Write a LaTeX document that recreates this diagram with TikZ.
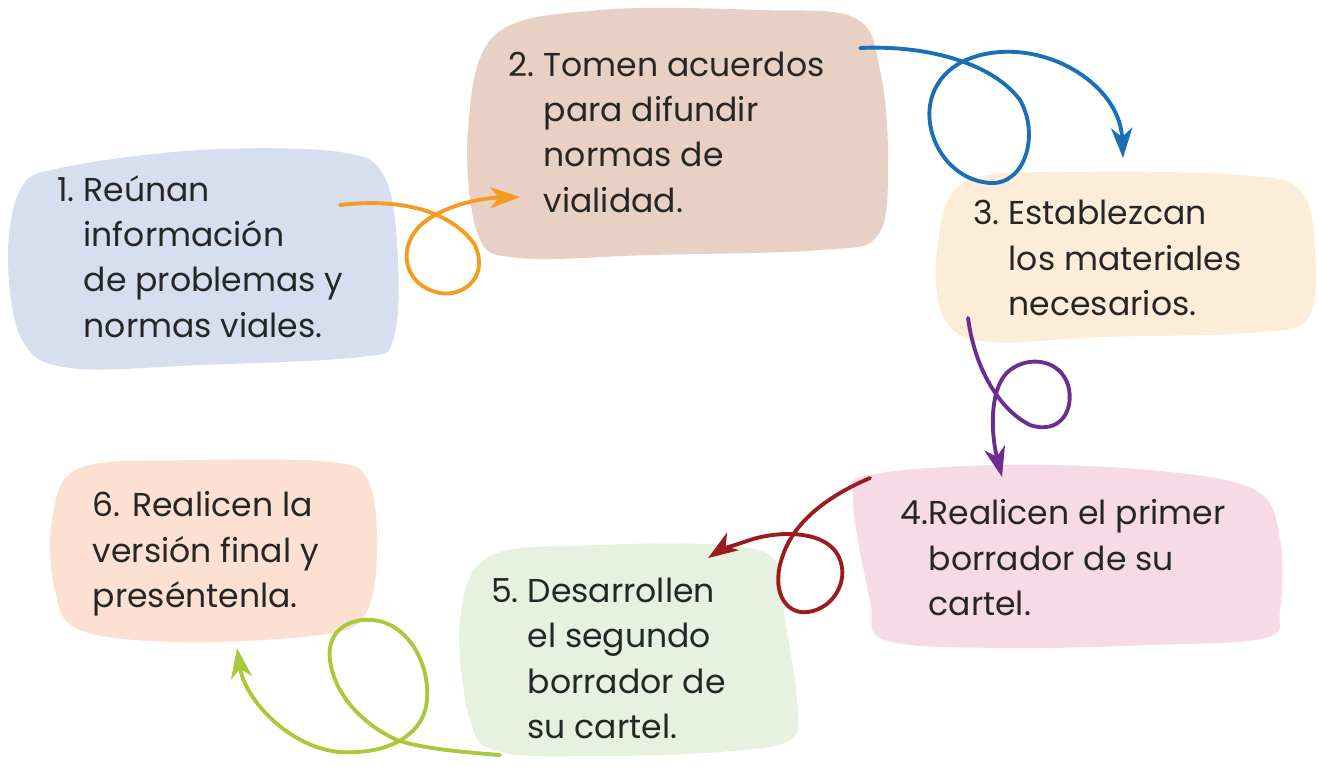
\documentclass[tikz,border=0pt]{standalone}
\usepackage{fontspec}
\setmainfont{Poppins}
\usetikzlibrary{arrows.meta}

\definecolor{bluebox}{HTML}{D6DFEF}
\definecolor{brownbox}{HTML}{E8D0C4}
\definecolor{creambox}{HTML}{FDEDD8}
\definecolor{pinkbox}{HTML}{F6DAE6}
\definecolor{greenbox}{HTML}{E6F1E0}
\definecolor{peachbox}{HTML}{FCE1D3}
\definecolor{orangeline}{HTML}{F39C1F}
\definecolor{blueline}{HTML}{1A6FB5}
\definecolor{purpleline}{HTML}{6B2D8F}
\definecolor{redline}{HTML}{9A1C20}
\definecolor{greenline}{HTML}{A9C93B}

\newcommand{\numlbl}[1]{\llap{#1}}

\begin{document}
\begin{tikzpicture}[x=0.01cm, y=-0.01cm,
    blob/.style={smooth cycle, tension=0.6},
    txt/.style={anchor=base west, inner sep=0pt, align=left,
      text=black!85, font=\fontsize{9.4}{12.8}\selectfont},
    loopline/.style={line width=1.1pt, line cap=round,
      -{Stealth[length=8.5pt, width=6pt, inset=2.5pt]}}]
    \useasboundingbox (0,0) rectangle (1319,766);

    % boxes
    \fill[bluebox] plot[blob] coordinates {(60,168) (200,150) (340,152) (385,178)
      (398,260) (393,340) (360,357) (200,365) (70,368) (22,340) (8,260) (20,190)};
    \fill[brownbox] plot[blob] coordinates {(495,35) (600,10) (760,10) (855,18)
      (880,70) (888,160) (878,235) (820,250) (650,255) (520,258) (478,235) (468,130)};
    \fill[creambox] plot[blob] coordinates {(965,182) (1080,172) (1240,175) (1300,190)
      (1315,250) (1308,318) (1250,333) (1100,337) (990,342) (945,320) (937,250)};
    \fill[pinkbox] plot[blob] coordinates {(870,475) (1000,465) (1150,470) (1255,490)
      (1280,540) (1280,610) (1265,638) (1150,645) (1000,648) (885,640) (870,600) (853,500)};
    \fill[greenbox] plot[blob] coordinates {(490,556) (600,545) (720,545) (775,560)
      (785,620) (797,700) (790,740) (720,752) (600,756) (500,752) (470,720) (460,620)};
    \fill[peachbox] plot[blob] coordinates {(80,468) (200,460) (330,462) (368,480)
      (377,550) (365,615) (320,635) (180,642) (80,630) (55,590) (52,520)};

    % texts (anchored at the last line)
    \node[txt] (t1) at (83,337) {\numlbl{1.\ }Reúnan\\información\\de problemas y\\normas viales.};
    \node[txt] (t2) at (543,212) {\numlbl{2.\ }Tomen acuerdos\\para difundir\\normas de\\vialidad.};
    \node[txt] (t3) at (1008,315) {\numlbl{3.\ }Establezcan\\los materiales\\necesarios.};
    \node[txt] (t4) at (928,615) {\numlbl{4.}Realicen el primer\\borrador de su\\cartel.};
    \node[txt] (t5) at (527,738) {\numlbl{5.\ }Desarrollen\\el segundo\\borrador de\\su cartel.};
    \node[txt] (t6) at (92,607) {6. Realicen la\\versión final y\\preséntenla.};

    % loop arrows
    \coordinate (a1) at (340,205);
    \coordinate (b1) at (520,197);
    \coordinate (a2) at (860,48);
    \coordinate (b2) at (1123,158);
    \coordinate (a3) at (968,318);
    \coordinate (b3) at (1002,477);
    \coordinate (a4) at (870,478);
    \coordinate (b4) at (708,558);
    \coordinate (a5) at (500,755);
    \coordinate (b5) at (237,648);

    \draw[loopline, orangeline] (a1)
      .. controls (400,198) and (450,210) .. (475,245)
      .. controls (490,280) and (460,297) .. (440,293)
      .. controls (400,285) and (395,240) .. (430,218)
      .. controls (450,205) and (480,198) .. (b1);
    \draw[loopline, blueline] (a2)
      .. controls (920,45) and (990,60) .. (1020,100)
      .. controls (1040,135) and (1025,185) .. (990,183)
      .. controls (950,180) and (925,140) .. (930,105)
      .. controls (935,75) and (960,55) .. (1000,52)
      .. controls (1060,48) and (1120,90) .. (b2);
    \draw[loopline, purpleline] (a3)
      .. controls (975,370) and (1000,410) .. (1030,425)
      .. controls (1060,435) and (1075,410) .. (1068,385)
      .. controls (1060,360) and (1030,355) .. (1010,370)
      .. controls (990,385) and (990,430) .. (b3);
    \draw[loopline, redline] (a4)
      .. controls (830,495) and (795,520) .. (783,555)
      .. controls (770,590) and (785,615) .. (808,612)
      .. controls (835,608) and (848,580) .. (840,560)
      .. controls (830,530) and (780,530) .. (750,540)
      .. controls (735,545) and (720,550) .. (b4);
    \draw[loopline, greenline] (a5)
      .. controls (460,752) and (420,748) .. (397,740)
      .. controls (370,728) and (335,700) .. (330,660)
      .. controls (326,630) and (350,618) .. (372,620)
      .. controls (405,622) and (430,660) .. (427,700)
      .. controls (425,730) and (395,755) .. (340,752)
      .. controls (290,748) and (245,700) .. (b5);
\end{tikzpicture}
\end{document}
